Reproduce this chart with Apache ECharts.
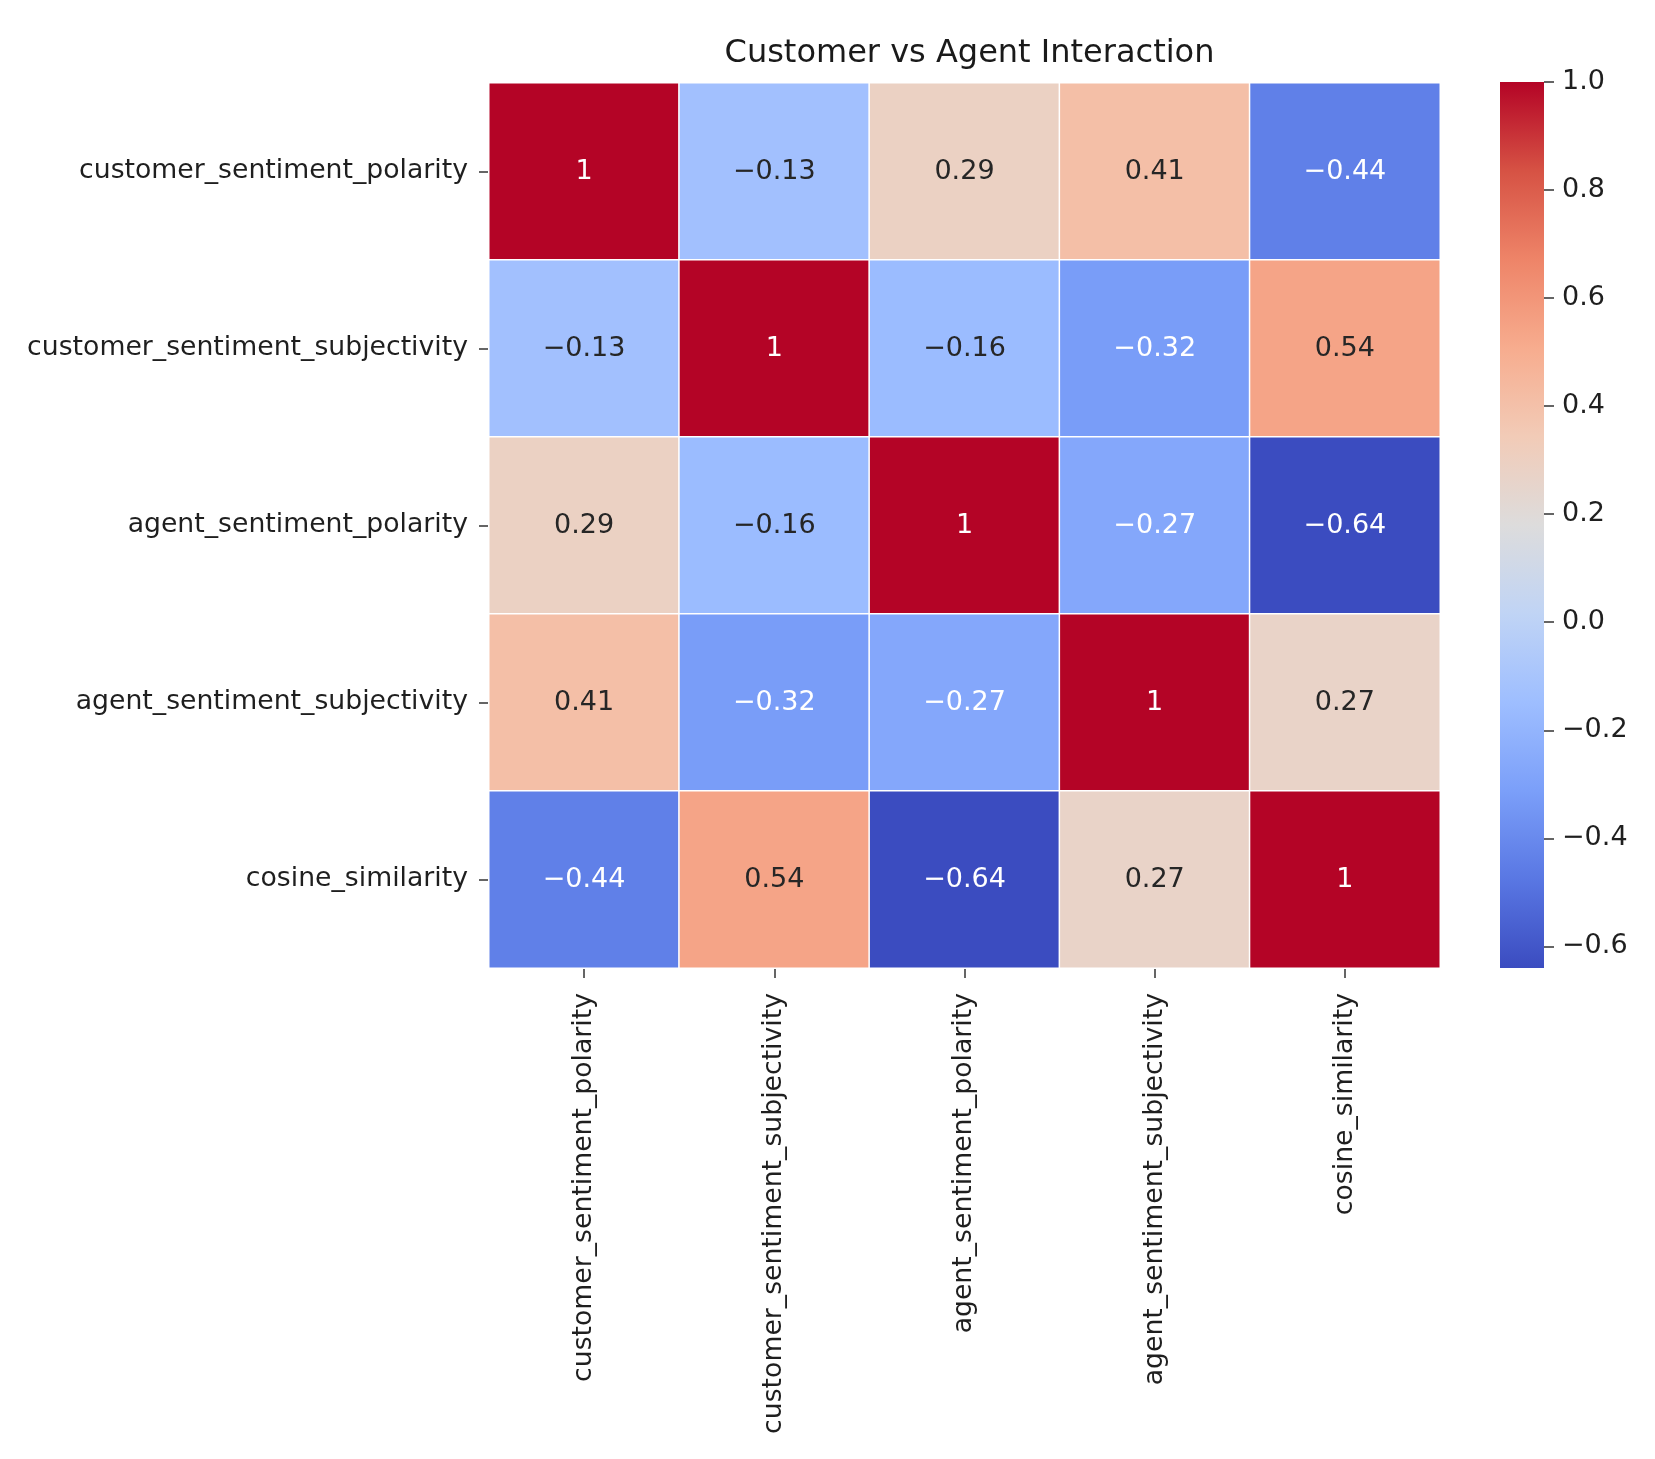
<!DOCTYPE html>
<html>
<head>
<meta charset="utf-8">
<script src="https://cdn.jsdelivr.net/npm/echarts@6/dist/echarts.min.js"></script>
<style>
html,body{margin:0;padding:0;background:#fff;}
#chart{width:1655px;height:1459px;}
</style>
</head>
<body>
<div id="chart"></div>
<script>
const titleText = 'Customer vs Agent Interaction';
const categories = [
  'customer_sentiment_polarity',
  'customer_sentiment_subjectivity',
  'agent_sentiment_polarity',
  'agent_sentiment_subjectivity',
  'cosine_similarity'
];
const rowCustomerPolarity     = [1.00, -0.13, 0.29, 0.41, -0.44];
const rowCustomerSubjectivity = [-0.13, 1.00, -0.16, -0.32, 0.54];
const rowAgentPolarity        = [0.29, -0.16, 1.00, -0.27, -0.64];
const rowAgentSubjectivity    = [0.41, -0.32, -0.27, 1.00, 0.27];
const rowCosineSimilarity     = [-0.44, 0.54, -0.64, 0.27, 1.00];
const matrix = [rowCustomerPolarity, rowCustomerSubjectivity, rowAgentPolarity, rowAgentSubjectivity, rowCosineSimilarity];
const colorbarTicks = [-0.6, -0.4, -0.2, 0.0, 0.2, 0.4, 0.6, 0.8, 1.0];
const vmin = -0.64, vmax = 1.0;

const coolwarm = ['#3b4cc0','#5977e3','#7b9ff9','#9ebeff','#c0d4f5','#dddcdc','#f2cbb7','#f7ac8e','#ee8468','#d65244','#b40426'];

function hexToRgb(h){return [parseInt(h.substr(1,2),16),parseInt(h.substr(3,2),16),parseInt(h.substr(5,2),16)];}
function colorFor(v){
  let t = (v - vmin) / (vmax - vmin);
  t = Math.max(0, Math.min(1, t));
  const pos = t * (coolwarm.length - 1);
  const i = Math.min(Math.floor(pos), coolwarm.length - 2);
  const f = pos - i;
  const a = hexToRgb(coolwarm[i]), b = hexToRgb(coolwarm[i+1]);
  return [0,1,2].map(k => a[k] + (b[k]-a[k])*f);
}
function luminance(rgb){
  const c = rgb.map(x => { x/=255; return x <= 0.03928 ? x/12.92 : Math.pow((x+0.055)/1.055, 2.4); });
  return 0.2126*c[0] + 0.7152*c[1] + 0.0722*c[2];
}
function fmtCell(v){
  return String(Number(v.toPrecision(2))).replace('-', '\u2212');
}
function fmtTick(v){
  return (v < -1e-9 ? '\u2212' : '') + Math.abs(v).toFixed(1);
}

const heatData = [];
matrix.forEach((row, i) => {
  row.forEach((v, j) => {
    const lum = luminance(colorFor(v));
    heatData.push({value: [j, i, v], label: {color: lum > 0.408 ? '#262626' : '#ffffff'}});
  });
});

// layout
const gL = 489, gT = 83, gW = 951, gH = 885;
const cbL = 1500, cbT = 82, cbW = 44, cbH = 886;
const pxPerUnit = cbH / (vmax - vmin);
const cbAxisH = (colorbarTicks[colorbarTicks.length-1] - colorbarTicks[0]) * pxPerUnit;

// colorbar gradient (top = vmax, bottom = vmin)
const cbGradient = new echarts.graphic.LinearGradient(0, 0, 0, 1,
  coolwarm.slice().reverse().map((c, i) => ({offset: i / (coolwarm.length - 1), color: c})));

const chart = echarts.init(document.getElementById('chart'));
chart.setOption({
  backgroundColor: '#ffffff',
  animation: false,
  title: {
    text: titleText,
    left: gL + gW/2,
    top: 33,
    textAlign: 'center',
    textStyle: {fontFamily: 'DejaVu Sans', fontSize: 32, fontWeight: 'normal', color: '#1a1a1a'}
  },
  grid: [
    {left: gL, top: gT, width: gW, height: gH},
    {left: cbL, top: cbT, width: cbW, height: cbAxisH},
    {left: cbL, top: cbT, width: cbW, height: cbH, show: true, borderWidth: 0, backgroundColor: cbGradient, z: 0}
  ],
  xAxis: [
    {
      type: 'category', gridIndex: 0, data: categories, position: 'bottom',
      axisLine: {show: false},
      axisTick: {show: true, alignWithLabel: true, length: 10, lineStyle: {color: '#333', width: 1.5}},
      axisLabel: {rotate: 90, margin: 25, fontFamily: 'DejaVu Sans', fontSize: 26.7, color: '#1f1f1f', interval: 0},
      splitLine: {show: false}
    },
    {type: 'value', gridIndex: 1, show: false, min: 0, max: 1},
    {type: 'value', gridIndex: 2, show: false, min: 0, max: 1}
  ],
  yAxis: [
    {
      type: 'category', gridIndex: 0, data: categories, inverse: true,
      axisLine: {show: false},
      axisTick: {show: true, alignWithLabel: true, length: 10, lineStyle: {color: '#333', width: 1.5}},
      axisLabel: {margin: 21, fontFamily: 'DejaVu Sans', fontSize: 26.7, color: '#1f1f1f', interval: 0},
      splitLine: {show: false}
    },
    {
      type: 'value', gridIndex: 1, position: 'right',
      min: colorbarTicks[0], max: colorbarTicks[colorbarTicks.length-1], interval: 0.2,
      axisLine: {show: false, onZero: false},
      axisTick: {show: true, inside: false, length: 10, lineStyle: {color: '#333', width: 1.5}},
      axisLabel: {margin: 18, fontFamily: 'DejaVu Sans', fontSize: 27, color: '#1f1f1f', formatter: fmtTick},
      splitLine: {show: false}
    },
    {type: 'value', gridIndex: 2, show: false, min: vmin, max: vmax}
  ],
  visualMap: {
    type: 'continuous',
    show: false,
    seriesIndex: 0,
    dimension: 2,
    min: vmin, max: vmax,
    inRange: {color: coolwarm}
  },
  series: [{
    type: 'heatmap',
    xAxisIndex: 0, yAxisIndex: 0,
    data: heatData,
    itemStyle: {borderColor: '#ffffff', borderWidth: 1.5},
    label: {show: true, formatter: p => fmtCell(p.value[2]), fontFamily: 'DejaVu Sans', fontSize: 27},
    emphasis: {disabled: true}
  }]
});
</script>
</body>
</html>
